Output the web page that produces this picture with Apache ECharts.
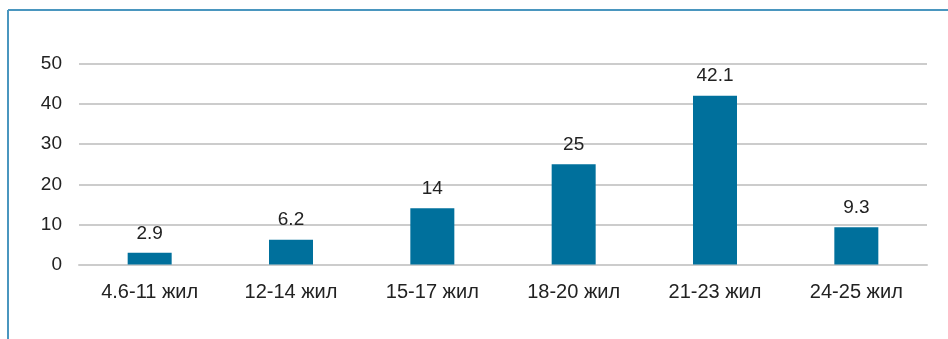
<!DOCTYPE html>
<html>
<head>
<meta charset="utf-8">
<script src="https://cdn.jsdelivr.net/npm/echarts@6/dist/echarts.min.js"></script>
<style>
  html, body { margin: 0; padding: 0; background: #ffffff; }
  #chart { width: 948px; height: 339px; }
</style>
</head>
<body>
<div id="chart"></div>
<script>
// Age groups and their shares (%)
const categories = ['4.6-11 жил', '12-14 жил', '15-17 жил', '18-20 жил', '21-23 жил', '24-25 жил'];
const values = [2.9, 6.2, 14, 25, 42.1, 9.3];
const yTicks = { min: 0, max: 50, interval: 10 };

const FONT = '"Liberation Sans", Arial, sans-serif';
const TEXT = '#222222';
const GRID = '#cccccc';
const BAR = '#00709c';
const FRAME = '#4a96bf';

const chart = echarts.init(document.getElementById('chart'), null, { renderer: 'canvas' });
chart.setOption({
  animation: false,
  backgroundColor: '#ffffff',
  graphic: [
    { type: 'line', shape: { x1: 8, y1: 10, x2: 948, y2: 10 }, style: { stroke: FRAME, lineWidth: 2 } },
    { type: 'line', shape: { x1: 8, y1: 10, x2: 8, y2: 339 }, style: { stroke: FRAME, lineWidth: 2 } }
  ],
  grid: { left: 79, right: 21, top: 64, bottom: 74.5, containLabel: false },
  xAxis: {
    type: 'category',
    data: categories,
    axisLine: { show: true, lineStyle: { color: GRID, width: 2 } },
    axisTick: { show: false },
    axisLabel: { color: TEXT, fontFamily: FONT, fontSize: 20, margin: 18 }
  },
  yAxis: {
    type: 'value',
    min: yTicks.min,
    max: yTicks.max,
    interval: yTicks.interval,
    axisLine: { show: false },
    axisTick: { show: false },
    splitLine: { lineStyle: { color: GRID, width: 2 } },
    axisLabel: { color: TEXT, fontFamily: FONT, fontSize: 19, margin: 17 }
  },
  series: [{
    type: 'bar',
    data: values,
    barWidth: 44,
    itemStyle: { color: BAR },
    label: {
      show: true,
      position: 'top',
      distance: 10,
      color: TEXT,
      fontFamily: FONT,
      fontSize: 19
    }
  }]
});
</script>
</body>
</html>
